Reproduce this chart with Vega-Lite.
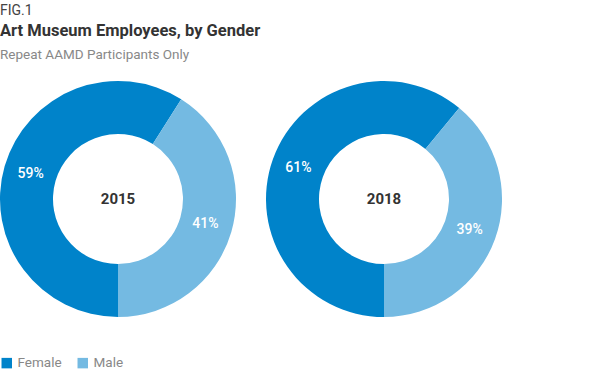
{
  "$schema": "https://vega.github.io/schema/vega-lite/v6.json",
  "padding": {"left": 0, "top": 4, "right": 0, "bottom": 0},
  "autosize": {"type": "pad"},
  "background": "white",
  "config": {"view": {"stroke": null}, "font": "Roboto", "concat": {"spacing": 30}},
  "data": {"values": [
    {"year": "2015", "gender": "Female", "pct": 0.59},
    {"year": "2015", "gender": "Male", "pct": 0.41},
    {"year": "2018", "gender": "Female", "pct": 0.61},
    {"year": "2018", "gender": "Male", "pct": 0.39}
  ]},
  "title": {"text": "FIG.1", "anchor": "start", "fontSize": 14, "fontWeight": "normal", "color": "#444", "offset": 5},
  "vconcat": [{
    "title": {"text": "Art Museum Employees, by Gender", "subtitle": "Repeat AAMD Participants Only", "anchor": "start", "fontSize": 16.5, "fontWeight": "bold", "color": "#333", "subtitleColor": "#888", "subtitleFontSize": 13.5, "subtitlePadding": 8, "offset": 20},
    "hconcat": [
      {
        "width": 236, "height": 236,
        "layer": [
          {"transform": [{"filter": "datum.year == '2015'"}],
           "mark": {"type": "arc", "innerRadius": 65, "outerRadius": 118},
           "encoding": {
             "theta": {"field": "pct", "type": "quantitative", "stack": true, "scale": {"range": [3.14159265, 9.42477796]}},
             "color": {"field": "gender", "type": "nominal", "scale": {"domain": ["Female", "Male"], "range": ["#0083CA", "#74BAE2"]},
               "legend": {"orient": "bottom", "direction": "horizontal", "title": null, "symbolType": "square", "symbolSize": 110, "symbolStrokeWidth": 0, "labelColor": "#888", "labelFontSize": 13.5, "columnPadding": 14, "offset": 39}},
             "order": {"field": "gender"}
           }},
          {"transform": [{"filter": "datum.year == '2015'"}],
           "mark": {"type": "text", "radius": 91, "color": "white", "fontSize": 14, "fontWeight": 500},
           "encoding": {
             "theta": {"field": "pct", "type": "quantitative", "stack": true, "scale": {"range": [3.14159265, 9.42477796]}},
             "order": {"field": "gender"},
             "text": {"field": "pct", "type": "quantitative", "format": ".0%"}
           }},
          {"transform": [{"filter": "datum.year == '2015' && datum.gender == 'Female'"}],
           "mark": {"type": "text", "radius": 0.01, "color": "#333", "fontSize": 15, "fontWeight": "bold"},
           "encoding": {
             "theta": {"field": "pct", "type": "quantitative"},
             "text": {"field": "year"}
           }}
        ]
      },
      {
        "width": 236, "height": 236,
        "layer": [
          {"transform": [{"filter": "datum.year == '2018'"}],
           "mark": {"type": "arc", "innerRadius": 65, "outerRadius": 118},
           "encoding": {
             "theta": {"field": "pct", "type": "quantitative", "stack": true, "scale": {"range": [3.14159265, 9.42477796]}},
             "color": {"field": "gender", "type": "nominal", "scale": {"domain": ["Female", "Male"], "range": ["#0083CA", "#74BAE2"]}},
             "order": {"field": "gender"}
           }},
          {"transform": [{"filter": "datum.year == '2018'"}],
           "mark": {"type": "text", "radius": 91, "color": "white", "fontSize": 14, "fontWeight": 500},
           "encoding": {
             "theta": {"field": "pct", "type": "quantitative", "stack": true, "scale": {"range": [3.14159265, 9.42477796]}},
             "order": {"field": "gender"},
             "text": {"field": "pct", "type": "quantitative", "format": ".0%"}
           }},
          {"transform": [{"filter": "datum.year == '2018' && datum.gender == 'Female'"}],
           "mark": {"type": "text", "radius": 0.01, "color": "#333", "fontSize": 15, "fontWeight": "bold"},
           "encoding": {
             "theta": {"field": "pct", "type": "quantitative"},
             "text": {"field": "year"}
           }}
        ]
      }
    ]
  }]
}
